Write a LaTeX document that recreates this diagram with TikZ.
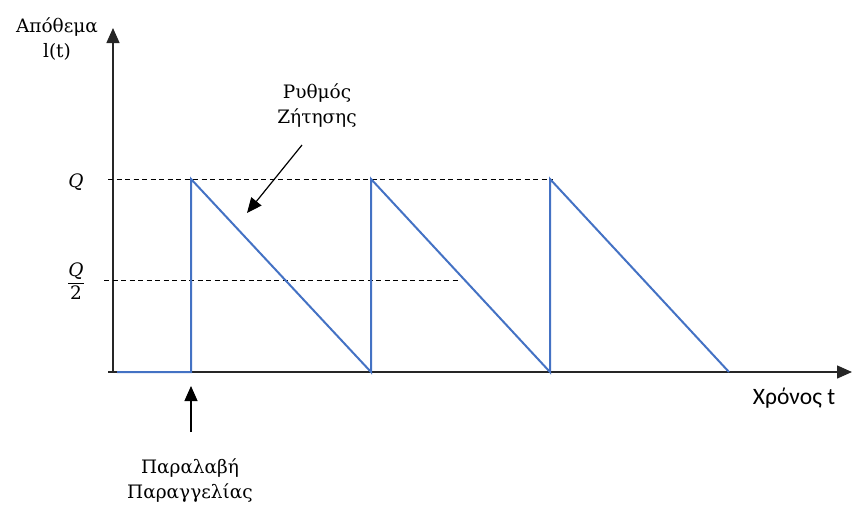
\documentclass[tikz,border=0pt]{standalone}
\usepackage{amsmath}
\usepackage{fontspec}
\setmainfont{DejaVu Serif}
\newfontfamily\calib{Carlito}
\usetikzlibrary{arrows.meta}
\begin{document}
\begin{tikzpicture}[x=1pt,y=-1pt,
  axis/.style={draw=black!85,line width=1.4pt,-{Triangle[length=15pt,width=13pt]}},
  guide/.style={draw=black,line width=0.9pt,dash pattern=on 5pt off 3.5pt},
  lbl/.style={font=\fontsize{18.5}{25}\selectfont,inner sep=0pt,align=center},
  pointer/.style={draw=black,line width=1.2pt,-{Triangle[length=15pt,width=13pt]}}]
\definecolor{sawblue}{HTML}{4472C4}
\useasboundingbox (0,0) rectangle (852,504);
% axes
\coordinate (o) at (113,372);
\coordinate (ytop) at (113,28);
\coordinate (xstart) at (108,372);
\coordinate (xend) at (852,372);
\draw[axis] (o) -- (ytop);
\draw[axis] (xstart) -- (xend);
% dashed guides
\coordinate (q0) at (108,179);
\coordinate (q1) at (553,179);
\coordinate (h0) at (104,280);
\coordinate (h1) at (460,280);
\draw[guide] (q0) -- (q1);
\draw[guide] (h0) -- (h1);
% sawtooth
\coordinate (s0) at (117,372);
\coordinate (s1) at (191,372);
\coordinate (s2) at (191,179);
\coordinate (s3) at (371,372);
\coordinate (s4) at (371,179);
\coordinate (s5) at (550,372);
\coordinate (s6) at (550,179);
\coordinate (s7) at (729,372);
\draw[line width=2pt,draw=sawblue,line join=miter] (s0) -- (s1) -- (s2) -- (s3) -- (s4) -- (s5) -- (s6) -- (s7);
% labels
\node[lbl] (ylab) at (57,39) {Απόθεμα\\l(t)};
\node[lbl] (qlab) at (76,182) {\itshape Q};
\node[lbl] (qhlab) at (76,281) {$\dfrac{\text{\itshape Q}}{\text{2}}$};
\node[lbl] (rate) at (317,106) {Ρυθμός\\Ζήτησης};
\node[lbl,font=\calib\fontsize{23.5}{26}\selectfont] (xlab) at (794,398) {Χρόνος t};
\node[lbl] (order) at (190,481) {Παραλαβή\\Παραγγελίας};
% pointers
\coordinate (rtail) at (302,145);
\coordinate (rtip) at (247,213);
\draw[pointer] (rtail) -- (rtip);
\coordinate (otail) at (191,432);
\coordinate (otip) at (191,386);
\draw[pointer] (otail) -- (otip);
\end{tikzpicture}
\end{document}
